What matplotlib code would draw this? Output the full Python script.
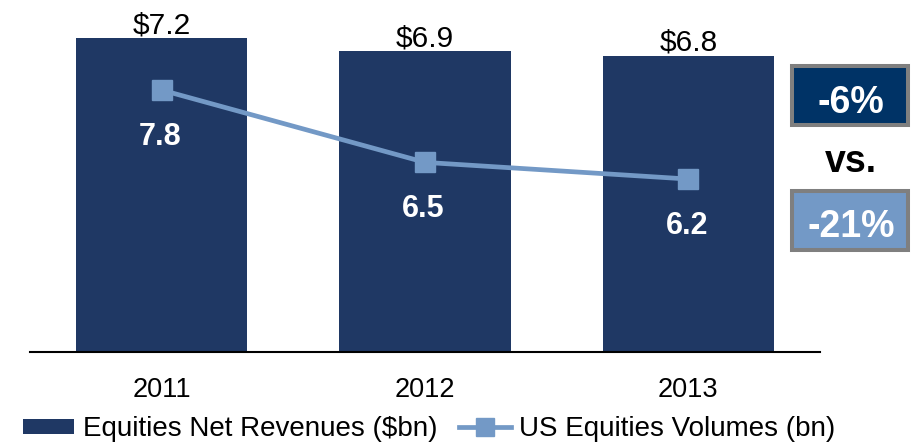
import matplotlib
matplotlib.use("Agg")
import matplotlib.pyplot as plt
from matplotlib.patches import Rectangle

plt.rcParams['font.family'] = ['Liberation Sans', 'DejaVu Sans']

years = ["2011", "2012", "2013"]
revenues = [7.2, 6.9, 6.8]      # Equities Net Revenues ($bn)
volumes = [7.8, 6.5, 6.2]       # US Equities Volumes (bn)
rev_labels = ["$7.2", "$6.9", "$6.8"]
vol_labels = ["7.8", "6.5", "6.2"]
rev_change = "-6%"
vol_change = "-21%"

bar_color = '#1f3864'
line_color = '#7399c6'
dark_box = '#003366'
border = '#7f7f7f'

W, H = 913, 444

def fx(px):
    return px / W

def fy(py):
    # py measured from the top of the picture
    return 1 - py / H

fig = plt.figure(figsize=(W / 100, H / 100), dpi=100)
ax = fig.add_axes([fx(30), fy(352), fx(790), 332 / H])

x = list(range(len(years)))
bars = ax.bar(x, revenues, width=0.65, color=bar_color,
              label="Equities Net Revenues ($bn)", zorder=2)
ax.set_xlim(-0.5, 2.5)
ax.set_ylim(0, 7.62)
ax.set_xticks(x)
ax.set_xticklabels(years, fontsize=19.5)
ax.tick_params(axis='x', length=0, pad=18)
ax.set_yticks([])
for s in ['left', 'right', 'top']:
    ax.spines[s].set_visible(False)
ax.spines['bottom'].set_linewidth(1.5)
ax.spines['bottom'].set_color('black')

for xi, v, lab in zip(x, revenues, rev_labels):
    ax.annotate(lab, (xi, v), xytext=(0, 3.5), textcoords='offset points',
                ha='center', va='baseline', fontsize=21.5, color='black')

ax2 = ax.twinx()
ln, = ax2.plot(x, volumes, color=line_color, lw=3.4, marker='s',
               markersize=14, markerfacecolor=line_color,
               markeredgecolor=line_color, label="US Equities Volumes (bn)")
ax2.set_ylim(3.09, 9.06)
ax2.set_yticks([])
for s in ax2.spines.values():
    s.set_visible(False)

for xi, v, lab in zip(x, volumes, vol_labels):
    ax2.annotate(lab, (xi, v), xytext=(-1, -39.5), textcoords='offset points',
                 ha='center', va='baseline', fontsize=22, fontweight='bold',
                 color='white')

# change boxes on the right
fig.add_artist(Rectangle((fx(792), fy(125)), fx(116), 59 / H,
                         transform=fig.transFigure, facecolor=dark_box,
                         edgecolor=border, linewidth=2.9))
fig.add_artist(Rectangle((fx(792), fy(250)), fx(116), 59 / H,
                         transform=fig.transFigure, facecolor=line_color,
                         edgecolor=border, linewidth=2.9))
fig.text(fx(851), fy(113), rev_change, ha='center', va='baseline',
         fontsize=27, fontweight='bold', color='white')
fig.text(fx(851), fy(172), "vs.", ha='center', va='baseline',
         fontsize=27, fontweight='bold', color='black')
fig.text(fx(851), fy(237), vol_change, ha='center', va='baseline',
         fontsize=27, fontweight='bold', color='white')

fig.legend(handles=[bars, ln], loc='center', bbox_to_anchor=(fx(429), fy(429)),
           ncol=2, frameon=False, fontsize=20, handlelength=1.85,
           handleheight=0.45, handletextpad=0.3, columnspacing=0.8,
           borderpad=0, borderaxespad=0, markerscale=0.9)

fig.savefig("out.png", dpi=100)
